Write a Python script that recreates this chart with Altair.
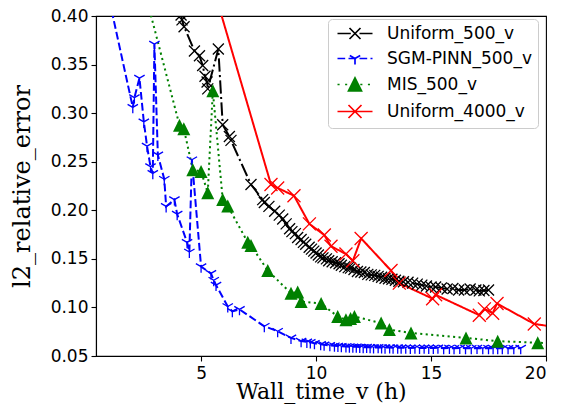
import altair as alt
import pandas as pd

series = ["Uniform_500_v", "SGM-PINN_500_v", "MIS_500_v", "Uniform_4000_v"]
colors = ["#000000", "#0000ff", "#008000", "#ff0000"]

# Uniform_500_v (black, dash-dot, x markers)
uni500_x = [3.70, 4.13, 4.17, 4.26, 4.71, 4.93, 5.07, 5.17, 5.26, 5.29, 5.75, 5.94, 6.23, 6.30,
            7.17, 7.68, 7.75, 7.95, 8.20, 8.40, 8.55, 8.70, 8.85, 8.95, 9.10, 9.20, 9.35, 9.45,
            9.55, 9.70, 9.80, 9.90, 10.00, 10.10, 10.20, 10.30, 10.45, 10.55, 10.70, 10.85,
            11.00, 11.10, 11.25, 11.40, 11.50, 11.65, 11.80, 11.95, 12.10, 12.25, 12.40, 12.55,
            12.70, 12.85, 13.00, 13.15, 13.30, 13.45, 13.60, 13.80, 14.00, 14.20, 14.40, 14.60,
            14.80, 15.00, 15.20, 15.45, 15.70, 15.95, 16.20, 16.45, 16.70, 16.95, 17.10, 17.30, 17.50]
uni500_y = [0.470, 0.401, 0.396, 0.389, 0.364, 0.359, 0.349, 0.338, 0.332, 0.325, 0.366, 0.288, 0.276, 0.272,
            0.2265, 0.211, 0.208, 0.204, 0.199, 0.195, 0.191, 0.186, 0.181, 0.178, 0.176, 0.172, 0.170, 0.167,
            0.165, 0.162, 0.160, 0.158, 0.156, 0.154, 0.152, 0.151, 0.150, 0.148, 0.147, 0.146,
            0.145, 0.1435, 0.142, 0.141, 0.1405, 0.139, 0.137, 0.1365, 0.136, 0.134, 0.1335, 0.133,
            0.132, 0.131, 0.130, 0.1295, 0.129, 0.128, 0.127, 0.1265, 0.126, 0.125, 0.124, 0.123,
            0.122, 0.121, 0.121, 0.120, 0.119, 0.1195, 0.118, 0.118, 0.119, 0.118, 0.117, 0.1175, 0.118]

# SGM-PINN_500_v (blue, dashed, tri_down markers)
sgm_x = [0.70, 2.03, 2.10, 2.32, 2.51, 2.65, 2.80, 2.90, 2.97, 3.12, 3.40, 3.48, 3.84, 3.96,
         4.39, 4.49, 4.60, 5.00, 5.43, 5.55, 5.65, 6.16, 6.36, 6.67, 7.75, 8.33, 8.91, 9.35,
         9.60, 9.75, 9.93, 10.20, 10.35, 10.60, 10.80, 10.95, 11.10, 11.30, 11.45, 11.60, 11.75,
         11.90, 12.05, 12.20, 12.35, 12.50, 12.70, 12.85, 13.00, 13.20, 13.35, 13.55, 13.70,
         13.90, 14.10, 14.30, 14.50, 14.70, 14.90, 15.10, 15.30, 15.55, 15.80, 16.00, 16.25,
         16.50, 16.75, 17.00, 17.25, 17.50, 17.70, 17.90, 18.10, 18.35, 18.60, 18.90]
sgm_y = [0.450, 0.306, 0.316, 0.336, 0.291, 0.266, 0.245, 0.238, 0.371, 0.257, 0.232, 0.204, 0.211, 0.196,
         0.167, 0.157, 0.252, 0.142, 0.135, 0.128, 0.123, 0.101, 0.096, 0.098, 0.0806, 0.0755, 0.0686, 0.0653,
         0.0645, 0.0640, 0.0630, 0.0620, 0.0615, 0.0610, 0.0605, 0.0602, 0.0600, 0.0598, 0.0596, 0.0594, 0.0595,
         0.0592, 0.0590, 0.0592, 0.0589, 0.0588, 0.0590, 0.0587, 0.0586, 0.0588, 0.0585, 0.0586, 0.0584,
         0.0585, 0.0583, 0.0585, 0.0582, 0.0584, 0.0583, 0.0582, 0.0584, 0.0581, 0.0582, 0.0580, 0.0582,
         0.0581, 0.0580, 0.0582, 0.0579, 0.0580, 0.0581, 0.0579, 0.0580, 0.0579, 0.0580, 0.0581]

# MIS_500_v (green, dotted, triangle markers)
mis_x = [2.28, 4.06, 4.25, 4.64, 5.00, 5.29, 5.51, 5.94, 6.16, 7.03, 7.17, 7.90, 8.91, 9.20, 9.35,
         10.22, 10.94, 11.30, 11.50, 11.67, 12.83, 13.19, 14.13, 16.52, 17.90, 19.64, 20.60]
mis_y = [0.450, 0.2876, 0.284, 0.2418, 0.240, 0.218, 0.323, 0.211, 0.2045, 0.167, 0.1637, 0.138, 0.1145, 0.116, 0.106,
         0.104, 0.0907, 0.0874, 0.0885, 0.0907, 0.0839, 0.0772, 0.0737, 0.0686, 0.0653, 0.0636, 0.0630]

# Uniform_4000_v (red, solid, x markers)
uni4000_x = [4.50, 8.04, 8.33, 9.04, 9.71, 10.36, 10.65, 11.30, 11.60, 11.96, 13.26, 13.62, 15.07, 15.20,
             17.10, 17.32, 17.68, 17.87, 19.49, 20.80]
uni4000_y = [0.513, 0.2265, 0.223, 0.215, 0.186, 0.1745, 0.163, 0.155, 0.148, 0.171, 0.138, 0.125, 0.109, 0.113,
             0.092, 0.0985, 0.094, 0.104, 0.083, 0.0785]

x_ticks = [5, 10, 15, 20]
y_ticks = [0.05, 0.10, 0.15, 0.20, 0.25, 0.30, 0.35, 0.40]

rows = []
for name, xs, ys in [(series[0], uni500_x, uni500_y), (series[1], sgm_x, sgm_y),
                     (series[2], mis_x, mis_y), (series[3], uni4000_x, uni4000_y)]:
    for i, (a, b) in enumerate(zip(xs, ys)):
        rows.append({"series": name, "x": a, "y": b, "i": i})
df = pd.DataFrame(rows)

x_enc = alt.X("x:Q", scale=alt.Scale(domain=[0.43, 20], nice=False, zero=False),
              axis=alt.Axis(values=x_ticks, format="d", title="Wall_time_v (h)", labelPadding=4,
                            titleX=225, titleY=42, titleBaseline="alphabetic", titleAlign="center",
                            titleFontSize=22))
y_enc = alt.Y("y:Q", scale=alt.Scale(domain=[0.05, 0.40], nice=False, zero=False),
              axis=alt.Axis(values=y_ticks, format=".2f", title="l2_relative_error", labelPadding=3,
                            titleX=-74, titleY=170, titleAngle=270, titleBaseline="middle",
                            titleAlign="center", titleFontSize=24))

dashes = [[13.3, 3.3, 2.1, 3.3], [7.7, 3.3], [2.1, 3.4], [1, 0]]


def line(k):
    return alt.Chart(df).transform_filter(alt.datum.series == series[k]).mark_line(
        clip=True, strokeWidth=2, color=colors[k], strokeDash=dashes[k]
    ).encode(x=x_enc, y=y_enc, order="i:Q")


XPATH = "M-1,-1L1,1M-1,1L1,-1"
TRIDOWN = "M0,0L0,1M0,0L-0.866,-0.5M0,0L0.866,-0.5"
TRIUP = "M0,-1L-1,1L1,1Z"


def pts(k, shape, size, filled, sw):
    return alt.Chart(df).transform_filter(alt.datum.series == series[k]).mark_point(
        shape=shape, size=size, filled=filled, color=colors[k], strokeWidth=sw, opacity=1, clip=True
    ).encode(x=x_enc, y=y_enc)


p_black = pts(0, XPATH, 121, False, 1.3)
p_blue = pts(1, TRIDOWN, 144, False, 1.3)
p_green = pts(2, TRIUP, 169, True, 0)
p_red = pts(3, XPATH, 169, False, 1.3)

# legend symbols: line style sample plus marker (triangle hatched densely so it reads as filled)
legend_paths = [
    "M-1,0L1.66,0M2.32,0L2.74,0M3.4,0L6,0M1.4,-1.1L3.6,1.1M1.4,1.1L3.6,-1.1",
    "M-1,0L0.54,0M1.2,0L2.74,0M3.4,0L4.94,0M5.6,0L6,0M2.5,0L2.5,1.2M2.5,0L1.46,-0.6M2.5,0L3.54,-0.6",
    "M-1,0L-0.58,0M0.52,0L0.94,0M3.56,0L3.98,0M5.08,0L5.5,0M2.5,-1.3L1.2,1.3L3.8,1.3Z"
    "M2.35,-1L2.65,-1M2.2,-0.7L2.8,-0.7M2.05,-0.4L2.95,-0.4M1.9,-0.1L3.1,-0.1M1.75,0.2L3.25,0.2"
    "M1.6,0.5L3.4,0.5M1.45,0.8L3.55,0.8M1.3,1.1L3.7,1.1",
    "M-1,0L6,0M1.2,-1.3L3.8,1.3M1.2,1.3L3.8,-1.3",
]

leg = alt.Legend(title=None, orient="none", legendX=232, legendY=3, padding=6,
                 strokeColor="#cccccc", fillColor="white", cornerRadius=4,
                 labelFont="DejaVu Sans", labelFontSize=17, labelColor="black",
                 symbolSize=100, symbolStrokeWidth=1.7, symbolOpacity=1,
                 labelOffset=36, rowPadding=6)

legend_layer = alt.Chart(df).mark_point(
    filled=False, opacity=0, strokeWidth=1.7, size=100, clip=True
).encode(
    x=x_enc, y=y_enc,
    color=alt.Color("series:N", scale=alt.Scale(domain=series, range=colors), legend=leg),
    shape=alt.Shape("series:N", scale=alt.Scale(domain=series, range=legend_paths), legend=leg),
)

chart = alt.layer(line(0), line(1), line(2), line(3), p_black, p_blue, p_green, p_red,
                  legend_layer).properties(
    width=450, height=340,
    autosize=alt.AutoSizeParams(type="none"),
    padding={"left": 88, "top": 8, "right": 8, "bottom": 51},
).configure_view(
    stroke="black", strokeWidth=1.1
).configure_axis(
    domainColor="black", domainWidth=1.1, tickColor="black", tickWidth=1.1, tickSize=5,
    labelFont="DejaVu Sans", labelFontSize=17, labelColor="black",
    titleFont="DejaVu Serif", titleFontWeight="normal", titleColor="black",
    grid=False,
)

chart.save("out.html", embed_options={"renderer": "svg", "actions": False})
